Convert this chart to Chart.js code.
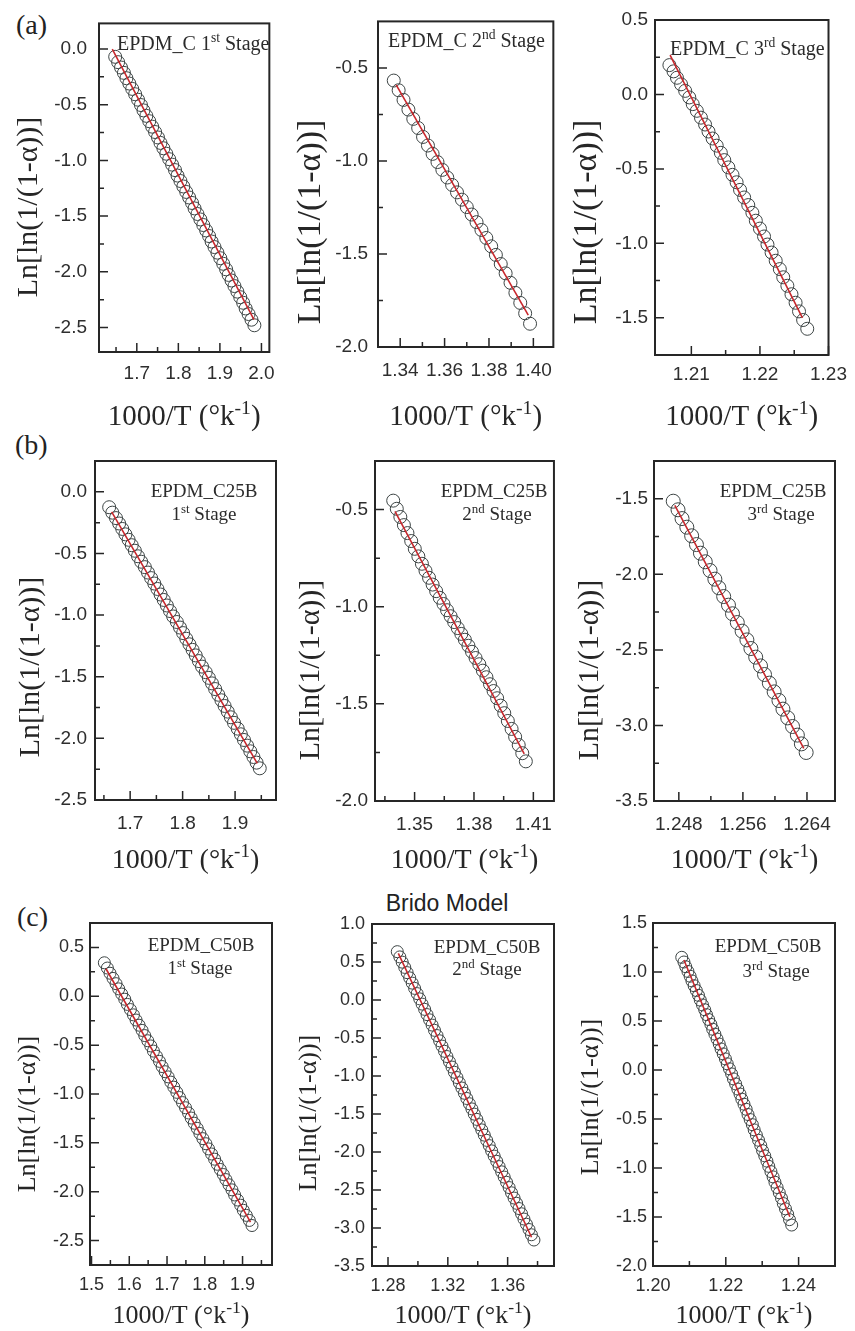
<!DOCTYPE html>
<html>
<head>
<meta charset="utf-8">
<script src="https://cdn.jsdelivr.net/npm/chart.js@4.4.1/dist/chart.umd.min.js"></script>
<style>
  html, body { margin: 0; padding: 0; background: #fff; }
  body { width: 855px; height: 1331px; position: relative; overflow: hidden; }
  canvas { position: absolute; }
  .tag { position: absolute; font-family: "Liberation Serif", serif; font-size: 28px; line-height: 32px; color: #222; }
  #model { position: absolute; left: 347px; top: 889px; width: 200px; text-align: center;
           font-family: "Liberation Sans", Arial, sans-serif; font-size: 23px; line-height: 28px; color: #222; }
</style>
</head>
<body>
<div class="tag" style="left:16px;top:9px">(a)</div>
<div class="tag" style="left:15px;top:429px">(b)</div>
<div class="tag" style="left:17px;top:901px">(c)</div>
<div id="model">Brido Model</div>

<script>
// EPDM_C, 1st stage
const epdmC1_T = [1.648, 1.655, 1.662, 1.669, 1.675, 1.682, 1.689, 1.696, 1.703, 1.710, 1.716, 1.723, 1.730, 1.737, 1.744, 1.751, 1.757, 1.764, 1.771, 1.778, 1.785, 1.792, 1.798, 1.805, 1.812, 1.819, 1.826, 1.833, 1.839, 1.846, 1.853, 1.860, 1.867, 1.874, 1.880, 1.887, 1.894, 1.901, 1.908, 1.915, 1.921, 1.928, 1.935, 1.942, 1.949, 1.956, 1.962, 1.969, 1.976, 1.983];
const epdmC1_ln = [-0.070, -0.118, -0.166, -0.214, -0.262, -0.310, -0.358, -0.406, -0.455, -0.503, -0.551, -0.600, -0.648, -0.697, -0.745, -0.794, -0.843, -0.891, -0.940, -0.989, -1.038, -1.087, -1.136, -1.185, -1.234, -1.283, -1.333, -1.382, -1.431, -1.481, -1.530, -1.580, -1.629, -1.679, -1.728, -1.778, -1.828, -1.878, -1.928, -1.978, -2.028, -2.078, -2.128, -2.178, -2.228, -2.278, -2.329, -2.379, -2.430, -2.480];
const epdmC1_fitT = [1.641, 1.982];
const epdmC1_fitLn = [0.0, -2.43];
const epdmC1_tTicks = ['1.7', '1.8', '1.9', '2.0'];
const epdmC1_tMinor = [1.65, 1.75, 1.85, 1.95];
const epdmC1_lnTicks = ['0.0', '-0.5', '-1.0', '-1.5', '-2.0', '-2.5'];
const epdmC1_lnMinor = [-0.25, -0.75, -1.25, -1.75, -2.25];

// EPDM_C, 2nd stage
const epdmC2_T = [1.3371, 1.3393, 1.3415, 1.3437, 1.3459, 1.3481, 1.3503, 1.3525, 1.3546, 1.3568, 1.3590, 1.3612, 1.3634, 1.3656, 1.3678, 1.3700, 1.3722, 1.3744, 1.3766, 1.3788, 1.3810, 1.3831, 1.3853, 1.3875, 1.3897, 1.3919, 1.3941, 1.3963, 1.3985];
const epdmC2_ln = [-0.568, -0.620, -0.672, -0.724, -0.774, -0.823, -0.871, -0.917, -0.962, -1.006, -1.048, -1.089, -1.129, -1.169, -1.208, -1.248, -1.288, -1.329, -1.371, -1.414, -1.459, -1.505, -1.554, -1.604, -1.655, -1.709, -1.763, -1.819, -1.875];
const epdmC2_fitT = [1.3382, 1.3977];
const epdmC2_fitLn = [-0.591, -1.829];
const epdmC2_tTicks = ['1.34', '1.36', '1.38', '1.40'];
const epdmC2_tMinor = [1.35, 1.37, 1.39];
const epdmC2_lnTicks = ['-0.5', '-1.0', '-1.5', '-2.0'];
const epdmC2_lnMinor = [-0.75, -1.25, -1.75];

// EPDM_C, 3rd stage
const epdmC3_T = [1.2068, 1.2074, 1.2079, 1.2085, 1.2091, 1.2097, 1.2102, 1.2108, 1.2114, 1.2120, 1.2125, 1.2131, 1.2137, 1.2143, 1.2148, 1.2154, 1.2160, 1.2166, 1.2171, 1.2177, 1.2183, 1.2189, 1.2194, 1.2200, 1.2206, 1.2211, 1.2217, 1.2223, 1.2229, 1.2234, 1.2240, 1.2246, 1.2252, 1.2257, 1.2263, 1.2269];
const epdmC3_ln = [0.197, 0.155, 0.112, 0.068, 0.024, -0.020, -0.065, -0.110, -0.156, -0.202, -0.249, -0.296, -0.344, -0.392, -0.441, -0.490, -0.540, -0.590, -0.641, -0.692, -0.743, -0.795, -0.848, -0.901, -0.954, -1.008, -1.062, -1.117, -1.173, -1.228, -1.285, -1.342, -1.399, -1.457, -1.515, -1.574];
const epdmC3_fitT = [1.2069, 1.2262];
const epdmC3_fitLn = [0.264, -1.500];
const epdmC3_tTicks = ['1.21', '1.22', '1.23'];
const epdmC3_tMinor = [1.215, 1.225];
const epdmC3_lnTicks = ['0.5', '0.0', '-0.5', '-1.0', '-1.5'];
const epdmC3_lnMinor = [0.25, -0.25, -0.75, -1.25];

// EPDM_C25B, 1st stage
const c25b1_T = [1.660, 1.666, 1.673, 1.679, 1.685, 1.691, 1.697, 1.703, 1.709, 1.715, 1.721, 1.728, 1.734, 1.740, 1.746, 1.752, 1.758, 1.764, 1.770, 1.776, 1.782, 1.789, 1.795, 1.801, 1.807, 1.813, 1.819, 1.825, 1.831, 1.837, 1.844, 1.850, 1.856, 1.862, 1.868, 1.874, 1.880, 1.886, 1.892, 1.898, 1.905, 1.911, 1.917, 1.923, 1.929, 1.935, 1.941, 1.947];
const c25b1_ln = [-0.125, -0.169, -0.213, -0.257, -0.301, -0.345, -0.389, -0.433, -0.478, -0.523, -0.567, -0.611, -0.655, -0.700, -0.744, -0.788, -0.833, -0.877, -0.922, -0.967, -1.011, -1.056, -1.101, -1.146, -1.192, -1.237, -1.282, -1.327, -1.373, -1.418, -1.463, -1.509, -1.554, -1.600, -1.646, -1.691, -1.737, -1.783, -1.829, -1.874, -1.921, -1.967, -2.013, -2.059, -2.105, -2.151, -2.197, -2.243];
const c25b1_fitT = [1.6648, 1.9423];
const c25b1_fitLn = [-0.162, -2.203];
const c25b1_tTicks = ['1.7', '1.8', '1.9'];
const c25b1_tMinor = [1.65, 1.75, 1.85, 1.95];
const c25b1_lnTicks = ['0.0', '-0.5', '-1.0', '-1.5', '-2.0', '-2.5'];
const c25b1_lnMinor = [-0.25, -0.75, -1.25, -1.75, -2.25];

// EPDM_C25B, 2nd stage
const c25b2_T = [1.3392, 1.3410, 1.3428, 1.3446, 1.3464, 1.3483, 1.3501, 1.3519, 1.3537, 1.3555, 1.3573, 1.3591, 1.3609, 1.3627, 1.3646, 1.3664, 1.3682, 1.3700, 1.3718, 1.3736, 1.3754, 1.3772, 1.3790, 1.3808, 1.3827, 1.3845, 1.3863, 1.3881, 1.3899, 1.3917, 1.3935, 1.3953, 1.3971, 1.3990, 1.4008, 1.4026, 1.4044, 1.4062];
const c25b2_ln = [-0.454, -0.496, -0.538, -0.580, -0.621, -0.662, -0.702, -0.741, -0.779, -0.815, -0.851, -0.886, -0.920, -0.954, -0.986, -1.018, -1.049, -1.079, -1.110, -1.140, -1.170, -1.201, -1.232, -1.264, -1.296, -1.329, -1.363, -1.399, -1.434, -1.471, -1.509, -1.548, -1.588, -1.629, -1.670, -1.712, -1.754, -1.796];
const c25b2_fitT = [1.3401, 1.4054];
const c25b2_fitLn = [-0.509, -1.758];
const c25b2_tTicks = ['1.35', '1.38', '1.41'];
const c25b2_tMinor = [1.335, 1.365, 1.395];
const c25b2_lnTicks = ['-0.5', '-1.0', '-1.5', '-2.0'];
const c25b2_lnMinor = [-0.75, -1.25, -1.75];

// EPDM_C25B, 3rd stage
const c25b3_T = [1.2473, 1.2479, 1.2484, 1.2490, 1.2496, 1.2502, 1.2507, 1.2513, 1.2519, 1.2525, 1.2530, 1.2536, 1.2542, 1.2547, 1.2553, 1.2559, 1.2565, 1.2570, 1.2576, 1.2582, 1.2587, 1.2593, 1.2599, 1.2605, 1.2610, 1.2616, 1.2622, 1.2628, 1.2633, 1.2639];
const c25b3_ln = [-1.516, -1.573, -1.631, -1.688, -1.745, -1.803, -1.860, -1.917, -1.975, -2.032, -2.089, -2.147, -2.204, -2.261, -2.319, -2.376, -2.434, -2.491, -2.548, -2.606, -2.663, -2.720, -2.778, -2.835, -2.892, -2.950, -3.007, -3.064, -3.122, -3.179];
const c25b3_fitT = [1.2475, 1.2636];
const c25b3_fitLn = [-1.544, -3.152];
const c25b3_tTicks = ['1.248', '1.256', '1.264'];
const c25b3_tMinor = [1.252, 1.260];
const c25b3_lnTicks = ['-1.5', '-2.0', '-2.5', '-3.0', '-3.5'];
const c25b3_lnMinor = [-1.75, -2.25, -2.75, -3.25];

// EPDM_C50B, 1st stage
const c50b1_T = [1.534, 1.542, 1.549, 1.557, 1.565, 1.572, 1.580, 1.588, 1.595, 1.603, 1.611, 1.618, 1.626, 1.634, 1.641, 1.649, 1.657, 1.664, 1.672, 1.680, 1.687, 1.695, 1.703, 1.710, 1.718, 1.726, 1.733, 1.741, 1.749, 1.757, 1.764, 1.772, 1.780, 1.787, 1.795, 1.803, 1.810, 1.818, 1.826, 1.833, 1.841, 1.849, 1.856, 1.864, 1.872, 1.879, 1.887, 1.895, 1.902, 1.910, 1.918, 1.925];
const c50b1_ln = [0.343, 0.289, 0.236, 0.183, 0.129, 0.076, 0.023, -0.030, -0.083, -0.136, -0.190, -0.243, -0.296, -0.349, -0.402, -0.455, -0.508, -0.561, -0.613, -0.666, -0.719, -0.772, -0.825, -0.878, -0.930, -0.983, -1.036, -1.088, -1.141, -1.194, -1.246, -1.299, -1.352, -1.404, -1.457, -1.509, -1.562, -1.614, -1.667, -1.719, -1.772, -1.824, -1.876, -1.929, -1.981, -2.033, -2.085, -2.138, -2.190, -2.242, -2.294, -2.346];
const c50b1_fitT = [1.5383, 1.9211];
const c50b1_fitLn = [0.282, -2.312];
const c50b1_tTicks = ['1.5', '1.6', '1.7', '1.8', '1.9'];
const c50b1_tMinor = [1.55, 1.65, 1.75, 1.85, 1.95];
const c50b1_lnTicks = ['0.5', '0.0', '-0.5', '-1.0', '-1.5', '-2.0', '-2.5'];
const c50b1_lnMinor = [0.25, -0.25, -0.75, -1.25, -1.75, -2.25];

// EPDM_C50B, 2nd stage
const c50b2_T = [1.2862, 1.2879, 1.2895, 1.2912, 1.2928, 1.2945, 1.2962, 1.2978, 1.2995, 1.3012, 1.3028, 1.3045, 1.3061, 1.3078, 1.3095, 1.3111, 1.3128, 1.3145, 1.3161, 1.3178, 1.3194, 1.3211, 1.3228, 1.3244, 1.3261, 1.3277, 1.3294, 1.3311, 1.3327, 1.3344, 1.3361, 1.3377, 1.3394, 1.3410, 1.3427, 1.3444, 1.3460, 1.3477, 1.3493, 1.3510, 1.3527, 1.3543, 1.3560, 1.3577, 1.3593, 1.3610, 1.3626, 1.3643, 1.3660, 1.3676, 1.3693, 1.3709, 1.3726, 1.3743, 1.3759, 1.3776];
const c50b2_ln = [0.636, 0.567, 0.498, 0.429, 0.360, 0.291, 0.222, 0.153, 0.084, 0.015, -0.054, -0.123, -0.192, -0.261, -0.330, -0.399, -0.468, -0.537, -0.606, -0.675, -0.744, -0.813, -0.882, -0.951, -1.020, -1.089, -1.158, -1.227, -1.296, -1.365, -1.433, -1.502, -1.571, -1.640, -1.709, -1.778, -1.847, -1.916, -1.985, -2.054, -2.123, -2.192, -2.261, -2.330, -2.399, -2.468, -2.537, -2.606, -2.675, -2.744, -2.813, -2.882, -2.951, -3.020, -3.089, -3.158];
const c50b2_fitT = [1.2869, 1.3760];
const c50b2_fitLn = [0.614, -3.122];
const c50b2_tTicks = ['1.28', '1.32', '1.36'];
const c50b2_tMinor = [1.30, 1.34, 1.38];
const c50b2_lnTicks = ['1.0', '0.5', '0.0', '-0.5', '-1.0', '-1.5', '-2.0', '-2.5', '-3.0', '-3.5'];
const c50b2_lnMinor = [0.75, 0.25, -0.25, -0.75, -1.25, -1.75, -2.25, -2.75, -3.25];

// EPDM_C50B, 3rd stage
const c50b3_T = [1.2079, 1.2085, 1.2090, 1.2096, 1.2102, 1.2107, 1.2113, 1.2119, 1.2125, 1.2130, 1.2136, 1.2142, 1.2147, 1.2153, 1.2159, 1.2164, 1.2170, 1.2176, 1.2182, 1.2187, 1.2193, 1.2199, 1.2204, 1.2210, 1.2216, 1.2221, 1.2227, 1.2233, 1.2239, 1.2244, 1.2250, 1.2256, 1.2261, 1.2267, 1.2273, 1.2278, 1.2284, 1.2290, 1.2296, 1.2301, 1.2307, 1.2313, 1.2318, 1.2324, 1.2330, 1.2335, 1.2341, 1.2347, 1.2353, 1.2358, 1.2364, 1.2370, 1.2375, 1.2381];
const c50b3_ln = [1.150, 1.102, 1.054, 1.006, 0.957, 0.909, 0.860, 0.811, 0.762, 0.713, 0.664, 0.615, 0.565, 0.515, 0.466, 0.416, 0.366, 0.316, 0.265, 0.215, 0.164, 0.113, 0.063, 0.012, -0.040, -0.091, -0.142, -0.194, -0.245, -0.297, -0.349, -0.401, -0.454, -0.506, -0.558, -0.611, -0.664, -0.717, -0.770, -0.823, -0.876, -0.930, -0.983, -1.037, -1.091, -1.145, -1.199, -1.253, -1.308, -1.363, -1.417, -1.472, -1.527, -1.582];
const c50b3_fitT = [1.2085, 1.2376];
const c50b3_fitLn = [1.122, -1.497];
const c50b3_tTicks = ['1.20', '1.22', '1.24'];
const c50b3_tMinor = [1.21, 1.23];
const c50b3_lnTicks = ['1.5', '1.0', '0.5', '0.0', '-0.5', '-1.0', '-1.5', '-2.0'];
const c50b3_lnMinor = [1.25, 0.75, 0.25, -0.25, -0.75, -1.25, -1.75];

const INK = '#262626';
const CIRCLE = '#3c4444';
const FIT_RED = '#c8282d';
const SERIF = '"Liberation Serif", "Times New Roman", serif';
const SANS = '"Liberation Sans", Arial, sans-serif';

// one entry per sub-plot: canvas box [left, top, w, h] and plot frame [l, t, r, b] in page px
const panels = [
  { box: [0, 0, 285, 440], frame: [99, 17, 278, 352], tRange: [1.609, 2.019], lnRange: [-2.72, 0.23],
    T: epdmC1_T, ln: epdmC1_ln, fitT: epdmC1_fitT, fitLn: epdmC1_fitLn,
    tTicks: epdmC1_tTicks, tMinor: epdmC1_tMinor, lnTicks: epdmC1_lnTicks, lnMinor: epdmC1_lnMinor,
    note: [{ x: 117, y: 50, align: 'left', parts: [['EPDM_C 1'], ['st', 1], [' Stage']] }], noteSize: 20,
    yTitle: [29, 207, 30], xTitle: [425, 29], tickSize: 19, xPad: 10, yPad: 12, r: 6.5 },
  { box: [285, 0, 280, 440], frame: [378, 16, 555, 347], tRange: [1.330, 1.409], lnRange: [-2.0, -0.25],
    T: epdmC2_T, ln: epdmC2_ln, fitT: epdmC2_fitT, fitLn: epdmC2_fitLn,
    tTicks: epdmC2_tTicks, tMinor: epdmC2_tMinor, lnTicks: epdmC2_lnTicks, lnMinor: epdmC2_lnMinor,
    note: [{ x: 388, y: 47, align: 'left', parts: [['EPDM_C 2'], ['nd', 1], [' Stage']] }], noteSize: 20,
    yTitle: [311, 222, 34], xTitle: [425, 29], tickSize: 19, xPad: 12, yPad: 10, r: 6.5 },
  { box: [565, 0, 290, 440], frame: [655, 20, 835, 355], tRange: [1.2047, 1.230], lnRange: [-1.75, 0.5],
    T: epdmC3_T, ln: epdmC3_ln, fitT: epdmC3_fitT, fitLn: epdmC3_fitLn,
    tTicks: epdmC3_tTicks, tMinor: epdmC3_tMinor, lnTicks: epdmC3_lnTicks, lnMinor: epdmC3_lnMinor,
    note: [{ x: 670, y: 55, align: 'left', parts: [['EPDM_C 3'], ['rd', 1], [' Stage']] }], noteSize: 20,
    yTitle: [587, 222, 34], xTitle: [425, 29], tickSize: 19, xPad: 8, yPad: 7, r: 6.5 },

  { box: [0, 440, 285, 440], frame: [95, 461, 276, 800], tRange: [1.633, 1.978], lnRange: [-2.5, 0.25],
    T: c25b1_T, ln: c25b1_ln, fitT: c25b1_fitT, fitLn: c25b1_fitLn,
    tTicks: c25b1_tTicks, tMinor: c25b1_tMinor, lnTicks: c25b1_lnTicks, lnMinor: c25b1_lnMinor,
    note: [{ x: 204, y: 497, align: 'center', parts: [['EPDM_C25B']] },
           { x: 204, y: 520, align: 'center', parts: [['1'], ['st', 1], [' Stage']] }], noteSize: 19,
    yTitle: [31, 667, 30], xTitle: [868, 28], tickSize: 19, xPad: 12, yPad: 8, r: 6.5 },
  { box: [285, 440, 280, 440], frame: [375, 461, 555, 801], tRange: [1.330, 1.4204], lnRange: [-2.0, -0.25],
    T: c25b2_T, ln: c25b2_ln, fitT: c25b2_fitT, fitLn: c25b2_fitLn,
    tTicks: c25b2_tTicks, tMinor: c25b2_tMinor, lnTicks: c25b2_lnTicks, lnMinor: c25b2_lnMinor,
    note: [{ x: 494, y: 497, align: 'center', parts: [['EPDM_C25B']] },
           { x: 497, y: 520, align: 'center', parts: [['2'], ['nd', 1], [' Stage']] }], noteSize: 19,
    yTitle: [311, 670, 30], xTitle: [868, 28], tickSize: 19, xPad: 12, yPad: 7, r: 6.5 },
  { box: [565, 440, 290, 440], frame: [654, 461, 835, 801], tRange: [1.2449, 1.2675], lnRange: [-3.5, -1.25],
    T: c25b3_T, ln: c25b3_ln, fitT: c25b3_fitT, fitLn: c25b3_fitLn,
    tTicks: c25b3_tTicks, tMinor: c25b3_tMinor, lnTicks: c25b3_lnTicks, lnMinor: c25b3_lnMinor,
    note: [{ x: 773, y: 497, align: 'center', parts: [['EPDM_C25B']] },
           { x: 781, y: 520, align: 'center', parts: [['3'], ['rd', 1], [' Stage']] }], noteSize: 19,
    yTitle: [590, 670, 30], xTitle: [868, 28], tickSize: 19, xPad: 12, yPad: 6, r: 7 },

  { box: [0, 880, 285, 451], frame: [90, 923, 272, 1265], tRange: [1.496, 1.978], lnRange: [-2.75, 0.75],
    T: c50b1_T, ln: c50b1_ln, fitT: c50b1_fitT, fitLn: c50b1_fitLn,
    tTicks: c50b1_tTicks, tMinor: c50b1_tMinor, lnTicks: c50b1_lnTicks, lnMinor: c50b1_lnMinor,
    note: [{ x: 201, y: 951, align: 'center', parts: [['EPDM_C50B']] },
           { x: 200, y: 974, align: 'center', parts: [['1'], ['st', 1], [' Stage']] }], noteSize: 19,
    yTitle: [28, 1114, 26], xTitle: [1323, 26], tickSize: 18, xPad: 9, yPad: 6, r: 6 },
  { box: [285, 880, 280, 451], frame: [372, 924, 554, 1266], tRange: [1.2693, 1.391], lnRange: [-3.5, 1.0],
    T: c50b2_T, ln: c50b2_ln, fitT: c50b2_fitT, fitLn: c50b2_fitLn,
    tTicks: c50b2_tTicks, tMinor: c50b2_tMinor, lnTicks: c50b2_lnTicks, lnMinor: c50b2_lnMinor,
    note: [{ x: 487, y: 953, align: 'center', parts: [['EPDM_C50B']] },
           { x: 487, y: 975, align: 'center', parts: [['2'], ['nd', 1], [' Stage']] }], noteSize: 19,
    yTitle: [309, 1113, 26], xTitle: [1323, 26], tickSize: 18, xPad: 9, yPad: 7, r: 6 },
  { box: [565, 880, 290, 451], frame: [653, 923, 835, 1266], tRange: [1.20, 1.25], lnRange: [-2.0, 1.5],
    T: c50b3_T, ln: c50b3_ln, fitT: c50b3_fitT, fitLn: c50b3_fitLn,
    tTicks: c50b3_tTicks, tMinor: c50b3_tMinor, lnTicks: c50b3_lnTicks, lnMinor: c50b3_lnMinor,
    note: [{ x: 768, y: 952, align: 'center', parts: [['EPDM_C50B']] },
           { x: 776, y: 977, align: 'center', parts: [['3'], ['rd', 1], [' Stage']] }], noteSize: 19,
    yTitle: [591, 1097, 26], xTitle: [1323, 26], tickSize: 18, xPad: 9, yPad: 6, r: 6 }
];

// text with raised small parts (1st, 2nd, k^-1)
function richText(ctx, parts, x, y, size, align) {
  const fontFor = sup => (sup ? size * 0.68 : size) + 'px ' + SERIF;
  let w = 0;
  parts.forEach(([t, sup]) => { ctx.font = fontFor(sup); w += ctx.measureText(t).width; });
  let cx = align === 'center' ? x - w / 2 : x;
  ctx.textAlign = 'left';
  ctx.textBaseline = 'alphabetic';
  parts.forEach(([t, sup]) => {
    ctx.font = fontFor(sup);
    ctx.fillText(t, cx, sup ? y - size * 0.38 : y);
    cx += ctx.measureText(t).width;
  });
}

// frame, inward ticks, stage note and axis titles
function decor(p) {
  return {
    id: 'decor',
    afterDraw(chart) {
      const { ctx, chartArea: a, scales: { x, y } } = chart;
      const ox = p.box[0], oy = p.box[1];
      ctx.save();
      ctx.strokeStyle = INK;
      ctx.lineWidth = 1.5;
      ctx.beginPath();
      const xTick = (v, len) => { const px = x.getPixelForValue(v); ctx.moveTo(px, a.bottom); ctx.lineTo(px, a.bottom - len); };
      const yTick = (v, len) => { const py = y.getPixelForValue(v); ctx.moveTo(a.left, py); ctx.lineTo(a.left + len, py); };
      p.tTicks.forEach(s => xTick(parseFloat(s), 9));
      p.tMinor.forEach(v => xTick(v, 5));
      p.lnTicks.forEach(s => yTick(parseFloat(s), 9));
      p.lnMinor.forEach(v => yTick(v, 5));
      ctx.stroke();
      ctx.lineWidth = 2;
      ctx.strokeRect(a.left, a.top, a.right - a.left, a.bottom - a.top);

      ctx.fillStyle = '#2b2b2b';
      p.note.forEach(n => richText(ctx, n.parts, n.x - ox, n.y - oy, p.noteSize, n.align));

      // x title
      ctx.fillStyle = INK;
      richText(ctx, [['1000/T (°k'], ['-1', 1], [')']], (a.left + a.right) / 2, p.xTitle[0] - oy, p.xTitle[1], 'center');

      // y title
      const [tx, ty, ts] = p.yTitle;
      ctx.translate(tx - ox, ty - oy);
      ctx.rotate(-Math.PI / 2);
      ctx.font = ts + 'px ' + SERIF;
      ctx.textAlign = 'center';
      ctx.textBaseline = 'middle';
      ctx.fillText('Ln[ln(1/(1-α))]', 0, 0);
      ctx.restore();
    }
  };
}

panels.forEach(p => {
  const [bl, bt, bw, bh] = p.box;
  const [fl, ft, fr, fb] = p.frame;
  const canvas = document.createElement('canvas');
  canvas.width = bw;
  canvas.height = bh;
  canvas.style.left = bl + 'px';
  canvas.style.top = bt + 'px';
  canvas.style.width = bw + 'px';
  canvas.style.height = bh + 'px';
  document.body.appendChild(canvas);

  const points = p.T.map((t, i) => ({ x: t, y: p.ln[i] }));
  const fit = p.fitT.map((t, i) => ({ x: t, y: p.fitLn[i] }));
  const tickFont = { family: SANS, size: p.tickSize };

  new Chart(canvas, {
    type: 'scatter',
    data: {
      datasets: [
        { data: fit, showLine: true, borderColor: FIT_RED, borderWidth: 1.6, pointRadius: 0, order: 0 },
        { data: points, pointRadius: p.r, pointBorderWidth: 1, pointBorderColor: CIRCLE,
          pointBackgroundColor: 'rgba(0,0,0,0)', order: 1 }
      ]
    },
    options: {
      responsive: false,
      animation: false,
      devicePixelRatio: 1,
      layout: { padding: { left: 0, top: ft - bt, right: bl + bw - fr, bottom: 0 } },
      plugins: { legend: { display: false }, tooltip: { enabled: false } },
      scales: {
        x: {
          type: 'linear', min: p.tRange[0], max: p.tRange[1],
          grid: { display: false, drawTicks: false }, border: { display: false },
          afterBuildTicks: s => { s.ticks = p.tTicks.map(v => ({ value: parseFloat(v) })); },
          afterFit: s => { s.height = bt + bh - fb; },
          ticks: { padding: p.xPad, autoSkip: false, maxRotation: 0, font: tickFont, color: '#2e2e2e',
                   callback: (v, i) => p.tTicks[i] }
        },
        y: {
          type: 'linear', min: p.lnRange[0], max: p.lnRange[1],
          grid: { display: false, drawTicks: false }, border: { display: false },
          afterBuildTicks: s => { s.ticks = p.lnTicks.map(v => ({ value: parseFloat(v) })); },
          afterFit: s => { s.width = fl - bl; },
          ticks: { padding: p.yPad, autoSkip: false, font: tickFont, color: '#2e2e2e',
                   callback: (v, i) => p.lnTicks[i] }
        }
      }
    },
    plugins: [decor(p)]
  });
});
</script>
</body>
</html>
